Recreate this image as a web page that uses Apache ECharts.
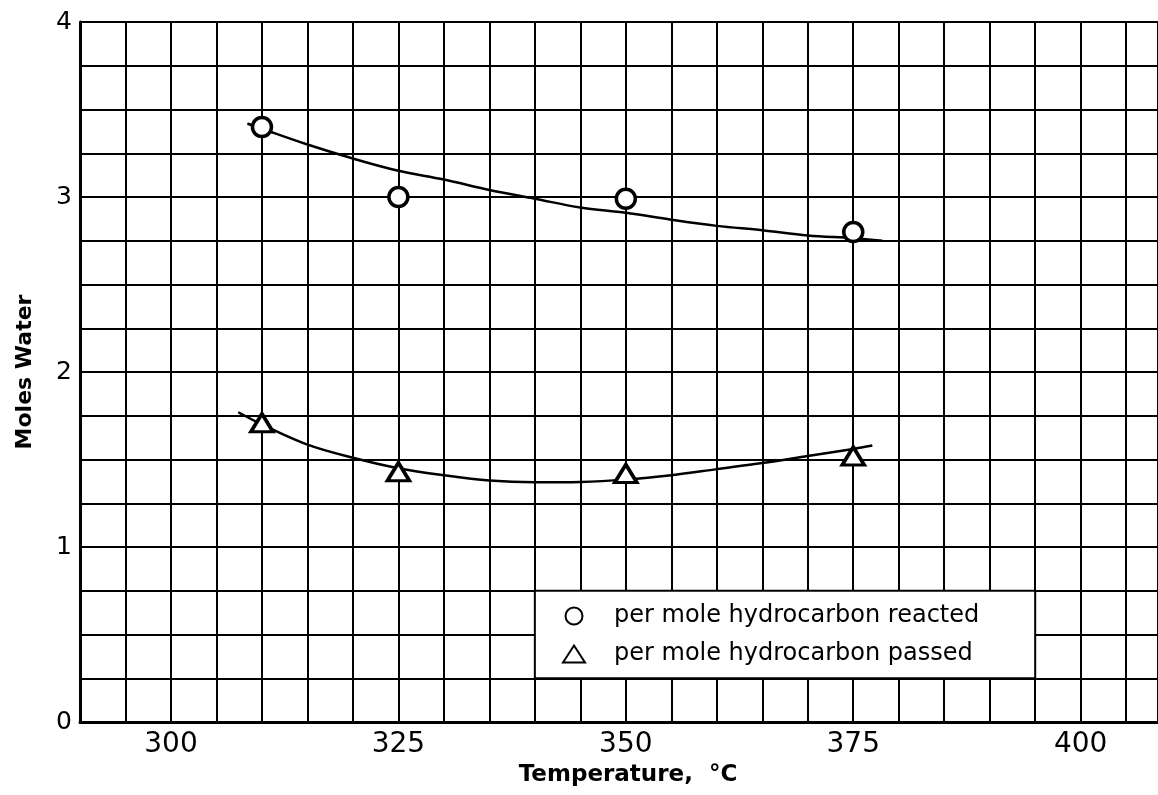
<!DOCTYPE html>
<html>
<head>
<meta charset="utf-8">
<script src="https://cdn.jsdelivr.net/npm/echarts@6/dist/echarts.min.js"></script>
<style>
  html, body { margin: 0; padding: 0; background: #fff; }
  #chart { width: 1158px; height: 795px; }
</style>
</head>
<body>
<div id="chart"></div>
<script>
"use strict";

// 测定点
var temps = [310, 325, 350, 375];
var reacted = [3.4, 3.0, 2.99, 2.8];
var passed = [1.71, 1.43, 1.42, 1.52];

// 手绘拟合曲线（从图上读出的点）
var reactedCurveT = [308.4, 310, 315, 320, 325, 330, 335, 340, 345, 350, 355, 360, 365, 370, 375, 378.2];
var reactedCurveV = [3.42, 3.39, 3.30, 3.22, 3.15, 3.10, 3.04, 2.99, 2.94, 2.91, 2.87, 2.835, 2.81, 2.78, 2.765, 2.75];
var passedCurveT = [307.4, 310, 315, 320, 325, 330, 335, 340, 345, 350, 355, 360, 365, 370, 375, 377.1];
var passedCurveV = [1.77, 1.70, 1.585, 1.51, 1.45, 1.41, 1.38, 1.37, 1.372, 1.385, 1.41, 1.445, 1.48, 1.52, 1.56, 1.58];

var seriesNames = ["per mole hydrocarbon reacted", "per mole hydrocarbon passed"];
// 图例白框所占的格子（数据坐标）
var legendBoxX = [340, 395];
var legendBoxY = [0.75, 0.25];

function zip(a, b) {
  return a.map(function (v, i) { return [v, b[i]]; });
}

var FONT = "DejaVu Sans";

function initChart() {
  var myChart = echarts.init(document.getElementById("chart"));
  var gridLine = { show: true, lineStyle: { color: "#000", width: 2 } };
  var curveStyle = { color: "#000", width: 2.5 };
  var markStyle = { color: "#fff", borderColor: "#000", borderWidth: 3.5, opacity: 1 };
  var option = {
    animation: false,
    backgroundColor: "#fff",
    grid: { left: 80, top: 22, right: 0, bottom: 73 },
    xAxis: {
      type: "value",
      min: 290,
      max: 408.5,
      interval: 5,
      name: "Temperature,  °C",
      nameLocation: "middle",
      nameGap: 42,
      nameTextStyle: { color: "#000", fontFamily: FONT, fontSize: 23, fontWeight: "bold", padding: [0, 0, 0, 18] },
      axisLine: { show: true, lineStyle: { color: "#000", width: 3 } },
      axisTick: { show: false },
      splitLine: gridLine,
      axisLabel: {
        color: "#000",
        fontFamily: FONT,
        fontSize: 28,
        margin: 9,
        showMaxLabel: false,
        formatter: function (v) { return v % 25 === 0 ? String(v) : ""; },
      },
    },
    yAxis: {
      type: "value",
      min: 0,
      max: 4,
      interval: 0.25,
      name: "Moles Water",
      nameLocation: "middle",
      nameGap: 44,
      nameTextStyle: { color: "#000", fontFamily: FONT, fontSize: 22, fontWeight: "bold" },
      axisLine: { show: true, lineStyle: { color: "#000", width: 3 } },
      axisTick: { show: false },
      splitLine: gridLine,
      axisLabel: {
        color: "#000",
        fontFamily: FONT,
        fontSize: 25,
        margin: 8,
        formatter: function (v) { return Number.isInteger(v) ? String(v) : ""; },
      },
    },
    legend: {
      data: seriesNames,
      orient: "vertical",
      left: 557,
      top: 599,
      itemWidth: 22,
      itemHeight: 17,
      itemGap: 14,
      z: 5,
      textStyle: { color: "#000", fontFamily: FONT, fontSize: 24, lineHeight: 20, padding: [0, 0, 0, 24] },
    },
    series: [
      {
        type: "line",
        data: zip(reactedCurveT, reactedCurveV),
        smooth: 0.35,
        showSymbol: false,
        silent: true,
        lineStyle: curveStyle,
        z: 2,
      },
      {
        type: "line",
        data: zip(passedCurveT, passedCurveV),
        smooth: 0.35,
        showSymbol: false,
        silent: true,
        lineStyle: curveStyle,
        z: 2,
      },
      {
        name: seriesNames[0],
        type: "scatter",
        data: zip(temps, reacted),
        symbol: "circle",
        symbolSize: 19,
        itemStyle: markStyle,
        z: 3,
      },
      {
        name: seriesNames[1],
        type: "scatter",
        data: zip(temps, passed),
        symbol: "triangle",
        symbolSize: [22, 18],
        itemStyle: markStyle,
        z: 3,
      },
    ],
  };
  myChart.setOption(option);

  // 图例白框：盖住格线
  var p1 = myChart.convertToPixel({ gridIndex: 0 }, [legendBoxX[0], legendBoxY[0]]);
  var p2 = myChart.convertToPixel({ gridIndex: 0 }, [legendBoxX[1], legendBoxY[1]]);
  myChart.setOption({
    graphic: [
      {
        type: "rect",
        z: 1,
        shape: { x: p1[0], y: p1[1], width: p2[0] - p1[0], height: p2[1] - p1[1] },
        style: { fill: "#fff", stroke: "#000", lineWidth: 2 },
      },
    ],
  });
  return myChart;
}

initChart();
</script>
</body>
</html>
